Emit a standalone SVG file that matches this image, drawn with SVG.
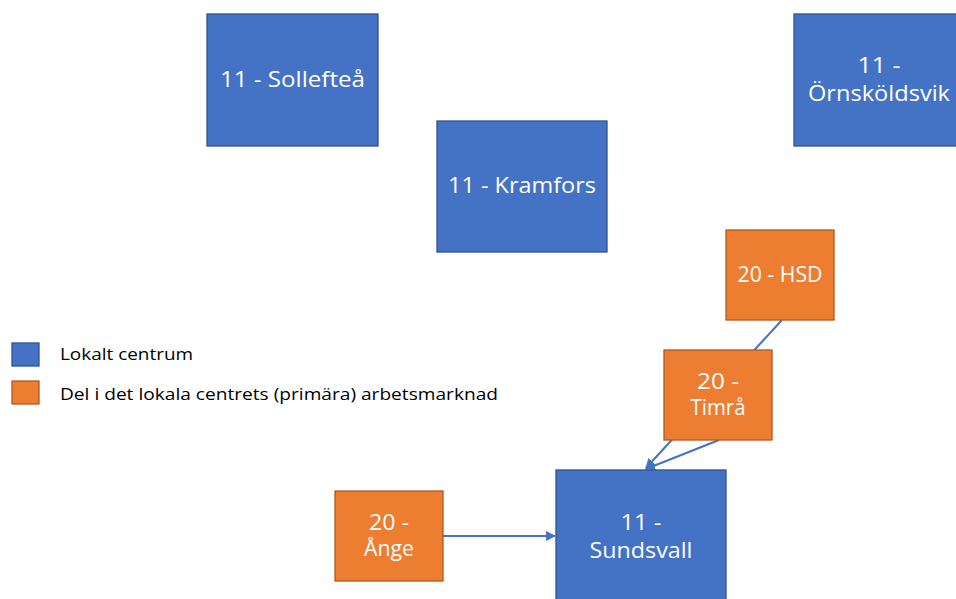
<svg xmlns="http://www.w3.org/2000/svg" width="956" height="599" viewBox="0 0 956 599">
<style>
.b{fill:#4472C4;stroke:#2F528F;stroke-width:1.3}
.o{fill:#ED7D31;stroke:#AE5A21;stroke-width:1.3}
.t{font-family:"Open Sans","Noto Sans",sans-serif;font-size:21px;fill:#fff;text-anchor:middle}
.l{font-family:"Open Sans","Noto Sans",sans-serif;font-size:16px;fill:#000}
.c{stroke:#4472C4;stroke-width:2;fill:none}
</style>
<defs>
<marker id="a" viewBox="0 0 10 10" refX="9" refY="5" markerWidth="5" markerHeight="5" orient="auto"><path d="M0,0 L10,5 L0,10 z" fill="#4472C4"/></marker>
</defs>
<rect width="956" height="599" fill="#fff"/>
<g id="connectors">
<line class="c" x1="782" y1="320" x2="646" y2="468" marker-end="url(#a)"/>
<line class="c" x1="719" y1="440" x2="646" y2="469" marker-end="url(#a)"/>
<line class="c" x1="443" y1="536" x2="555" y2="536" marker-end="url(#a)"/>
</g>
<g id="solleftea"><rect class="b" x="207" y="14" width="171" height="132"/><text class="t" x="292.5" y="87" textLength="145" lengthAdjust="spacingAndGlyphs">11 - Sollefteå</text></g>
<g id="ornskoldsvik"><rect class="b" x="794" y="14" width="170" height="132"/><text class="t" x="879" y="73" textLength="43" lengthAdjust="spacingAndGlyphs">11 -</text><text class="t" x="879" y="101" textLength="142" lengthAdjust="spacingAndGlyphs">Örnsköldsvik</text></g>
<g id="kramfors"><rect class="b" x="437" y="121" width="170" height="131"/><text class="t" x="522" y="193" textLength="148" lengthAdjust="spacingAndGlyphs">11 - Kramfors</text></g>
<g id="hsd"><rect class="o" x="726" y="230" width="108" height="90"/><text class="t" x="780" y="282" textLength="85" lengthAdjust="spacingAndGlyphs">20 - HSD</text></g>
<g id="timra"><rect class="o" x="664" y="350" width="108" height="90"/><text class="t" x="718" y="389" textLength="42" lengthAdjust="spacingAndGlyphs">20 -</text><text class="t" x="718" y="415" textLength="55" lengthAdjust="spacingAndGlyphs">Timrå</text></g>
<g id="ange"><rect class="o" x="335" y="491" width="108" height="90"/><text class="t" x="389" y="530" textLength="40" lengthAdjust="spacingAndGlyphs">20 -</text><text class="t" x="389" y="556" textLength="50" lengthAdjust="spacingAndGlyphs">Ånge</text></g>
<g id="sundsvall"><rect class="b" x="556" y="470" width="170" height="135"/><text class="t" x="641" y="530" textLength="41" lengthAdjust="spacingAndGlyphs">11 -</text><text class="t" x="641" y="558" textLength="103" lengthAdjust="spacingAndGlyphs">Sundsvall</text></g>
<g id="legend">
<rect class="b" x="12" y="343" width="27" height="23"/>
<text class="l" x="60" y="360" textLength="133" lengthAdjust="spacingAndGlyphs">Lokalt centrum</text>
<rect class="o" x="12" y="381" width="27" height="23"/>
<text class="l" x="60" y="400" textLength="438" lengthAdjust="spacingAndGlyphs">Del i det lokala centrets (primära) arbetsmarknad</text>
</g>
</svg>
